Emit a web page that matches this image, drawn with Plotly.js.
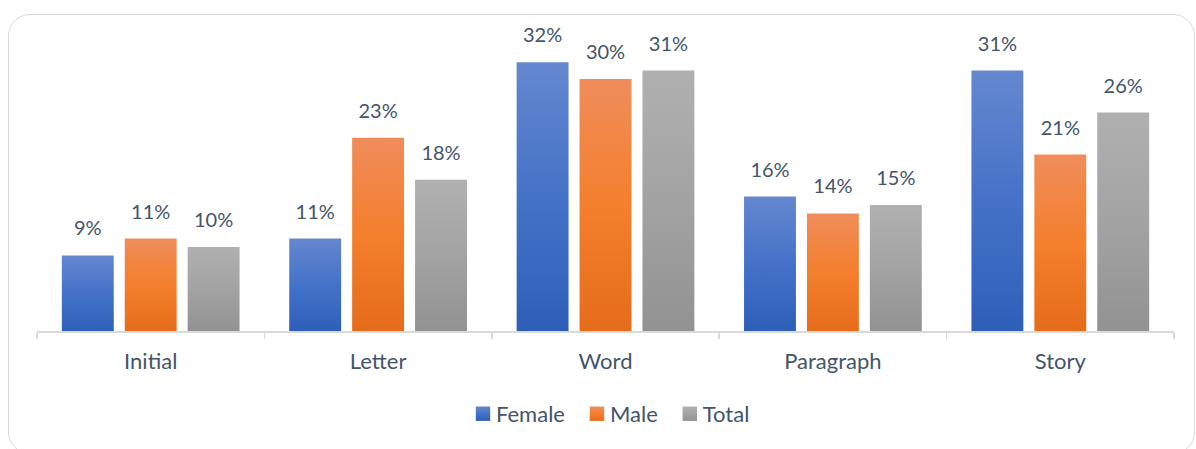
<!DOCTYPE html>
<html>
<head>
<meta charset="utf-8">
<script src="https://cdn.plot.ly/plotly-3.0.1.min.js"></script>
<style>
  html, body { margin: 0; padding: 0; background: #ffffff; }
  #wrap { position: relative; width: 1196px; height: 449px; overflow: hidden; }
  #frame { position: absolute; left: 8px; top: 14px; width: 1187px; height: 440px;
           border: 1.5px solid #D9D9D9; border-radius: 22px; box-sizing: border-box; pointer-events: none; }
  #chart { position: absolute; left: 0; top: 0; width: 1196px; height: 449px; }
</style>
</head>
<body>
<svg width="0" height="0" style="position:absolute">
  <defs>
    <linearGradient id="gFemale" x1="0" y1="0" x2="0" y2="1">
      <stop offset="0" stop-color="#6587CF"/>
      <stop offset="0.5" stop-color="#4472C8"/>
      <stop offset="1" stop-color="#2E5FB8"/>
    </linearGradient>
    <linearGradient id="gMale" x1="0" y1="0" x2="0" y2="1">
      <stop offset="0" stop-color="#EF8D5B"/>
      <stop offset="0.5" stop-color="#F47F2C"/>
      <stop offset="1" stop-color="#E56C1A"/>
    </linearGradient>
    <linearGradient id="gTotal" x1="0" y1="0" x2="0" y2="1">
      <stop offset="0" stop-color="#B0B0B0"/>
      <stop offset="0.5" stop-color="#A3A3A3"/>
      <stop offset="1" stop-color="#929292"/>
    </linearGradient>
  </defs>
</svg>
<div id="wrap">
  <div id="chart"></div>
  <div id="frame"></div>
</div>
<script>
const categories = ["Initial", "Letter", "Word", "Paragraph", "Story"];
const female = [0.09, 0.11, 0.32, 0.16, 0.31];
const male   = [0.11, 0.23, 0.30, 0.14, 0.21];
const total  = [0.10, 0.18, 0.31, 0.15, 0.26];
const seriesNames = ["Female", "Male", "Total"];
const seriesColors = ["#4472C4", "#ED7D31", "#A5A5A5"];
const gradientIds = ["gFemale", "gMale", "gTotal"];

const dataFont = { family: "Lato, 'Open Sans', sans-serif", size: 20, color: "#44546A" };
const axisFont = { family: "Lato, 'Open Sans', sans-serif", size: 22, color: "#44546A" };

const traces = [female, male, total].map((vals, i) => ({
  type: "bar",
  name: seriesNames[i],
  x: categories,
  y: vals,
  marker: { color: seriesColors[i], line: { width: 0 } },
  texttemplate: "%{y:.0%}",
  textposition: "outside",
  cliponaxis: false,
  textfont: dataFont,
  hoverinfo: "x+y+name"
}));

const layout = {
  width: 1196,
  height: 449,
  paper_bgcolor: "rgba(0,0,0,0)",
  plot_bgcolor: "rgba(0,0,0,0)",
  margin: { l: 37, r: 22, t: 37, b: 118 },
  barmode: "group",
  bargap: 0.17,
  bargroupgap: 0.175,
  showlegend: true,
  legend: {
    orientation: "h",
    x: 0.5, xanchor: "center",
    y: -0.282, yanchor: "middle",
    font: axisFont,
    itemwidth: 30,
    traceorder: "normal"
  },
  xaxis: {
    type: "category",
    showline: true,
    linecolor: "#D9D9D9",
    linewidth: 1.5,
    ticks: "outside",
    tickson: "boundaries",
    ticklen: 6,
    tickcolor: "#D9D9D9",
    tickwidth: 1.5,
    tickfont: axisFont,
    ticklabelstandoff: 10,
    showgrid: false,
    zeroline: false
  },
  yaxis: {
    range: [0, 0.35],
    visible: false,
    showgrid: false,
    zeroline: false
  }
};

Plotly.newPlot("chart", traces, layout, { displayModeBar: false, staticPlot: true }).then(gd => {
  // gradient fills for bars
  const barTraces = gd.querySelectorAll(".barlayer .trace.bars");
  barTraces.forEach((t, i) => {
    t.querySelectorAll(".point path").forEach(p => {
      p.style.fill = "url(#" + gradientIds[i] + ")";
    });
    // lift data labels to match the reference spacing
    t.querySelectorAll(".point text").forEach(tx => {
      const tr = tx.getAttribute("transform") || "";
      tx.setAttribute("transform", "translate(0,-13) " + tr);
    });
  });
  const legendTraces = gd.querySelectorAll(".legend .traces");
  legendTraces.forEach((t, i) => {
    t.querySelectorAll(".legendpoints path").forEach(p => {
      p.style.fill = "url(#" + gradientIds[i] + ")";
      const tr = p.getAttribute("transform") || "";
      p.setAttribute("transform", tr + " translate(7,0) scale(1.2)");
    });
  });
});
</script>
</body>
</html>
